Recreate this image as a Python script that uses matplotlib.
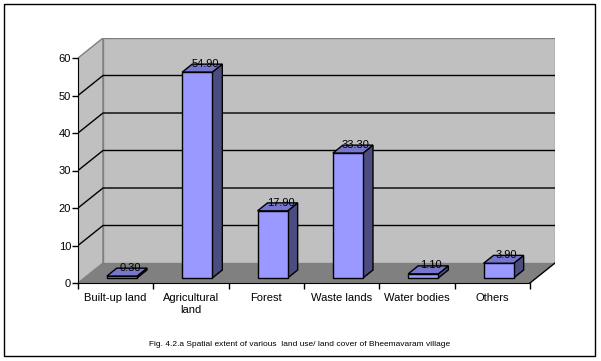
import matplotlib
matplotlib.use('Agg')
import matplotlib.pyplot as plt
from matplotlib.patches import Polygon, Rectangle

plt.rcParams['font.family'] = ['Liberation Sans', 'DejaVu Sans']

# data
categories = ['Built-up land', 'Agricultural\nland', 'Forest', 'Waste lands',
              'Water bodies', 'Others']
values = [0.30, 54.90, 17.90, 33.30, 1.10, 3.90]
labels = ['0.30', '54.90', '17.90', '33.30', '1.10', '3.90']
yticks = [0, 10, 20, 30, 40, 50, 60]
caption = 'Fig. 4.2.a Spatial extent of various  land use/ land cover of Bheemavaram village'

W, H = 601, 361
fig = plt.figure(figsize=(W / 100, H / 100), dpi=100)

# depth offset of the 3d box, in data units
DX = 25 / 75.33
DY = 20 / 3.75
n = len(categories)
ymax = 60

ax = fig.add_axes([78 / W, (H - 283) / H, 477 / W, 245 / H])
ax.set_xlim(0, n + DX)
ax.set_ylim(0, ymax + DY)
ax.patch.set_visible(False)

# walls and floor
wall = '#c0c0c0'
ax.add_patch(Polygon([(0, 0), (0, ymax), (DX, ymax + DY), (DX, DY)],
                     closed=True, fc=wall, ec='#808080', lw=1, zorder=1))
ax.add_patch(Polygon([(DX, DY), (DX, ymax + DY), (n + DX, ymax + DY), (n + DX, DY)],
                     closed=True, fc=wall, ec='#808080', lw=1, zorder=1))
ax.add_patch(Polygon([(0, 0), (n, 0), (n + DX, DY), (DX, DY)],
                     closed=True, fc='#808080', ec='none', zorder=2))
ax.plot([n, n + DX], [0, DY], color='black', lw=1, zorder=3)

# gridlines on side and back wall
for v in yticks[1:-1]:
    ax.plot([0, DX, n + DX], [v, v + DY, v + DY], color='black', lw=1, zorder=2)

# bars
d0, dd, bw = 0.25, 0.4, 0.4
front = '#9999ff'
top = '#7676cc'
side = '#4c4c80'
for i, v in enumerate(values):
    x0 = i + 0.3 + d0 * DX
    y0 = d0 * DY
    h = max(v, 0.5)
    ox, oy = dd * DX, dd * DY
    ax.add_patch(Polygon([(x0 + bw, y0), (x0 + bw + ox, y0 + oy),
                          (x0 + bw + ox, y0 + h + oy), (x0 + bw, y0 + h)],
                         closed=True, fc=side, ec='black', lw=1, zorder=4))
    ax.add_patch(Polygon([(x0, y0 + h), (x0 + bw, y0 + h),
                          (x0 + bw + ox, y0 + h + oy), (x0 + ox, y0 + h + oy)],
                         closed=True, fc=top, ec='black', lw=1, zorder=4))
    ax.add_patch(Rectangle((x0, y0), bw, h, fc=front, ec='black', lw=1, zorder=5))
    ax.text(x0 + bw / 2 + ox * 0.8, y0 + h + oy + 0.1, labels[i], ha='center',
            va='center', fontsize=8, zorder=6)

# axes
for s in ['top', 'right']:
    ax.spines[s].set_visible(False)
ax.spines['left'].set_bounds(0, ymax)
ax.spines['bottom'].set_bounds(0, n)
ax.spines['left'].set_zorder(6)
ax.spines['bottom'].set_zorder(6)
ax.set_yticks(yticks)
ax.set_yticklabels([str(t) for t in yticks], fontsize=8)
ax.tick_params(axis='y', length=4, width=1, pad=1)
ax.set_xticks(range(n + 1))
ax.set_xticklabels([])
ax.tick_params(axis='x', which='major', length=4, width=1)
ax.set_xticks([i + 0.5 for i in range(n)], minor=True)
ax.set_xticklabels(categories, minor=True, fontsize=8, linespacing=1.3)
ax.tick_params(axis='x', which='minor', length=0, pad=7)

fig.text(300 / W, 1 - 345 / H, caption, ha='center', va='center', fontsize=6)

fig.patches.append(Rectangle((4 / W, 1 - 356 / H), 591 / W, 352 / H,
                             transform=fig.transFigure, fill=False,
                             ec='black', lw=1))

fig.savefig('out.png', dpi=100)
